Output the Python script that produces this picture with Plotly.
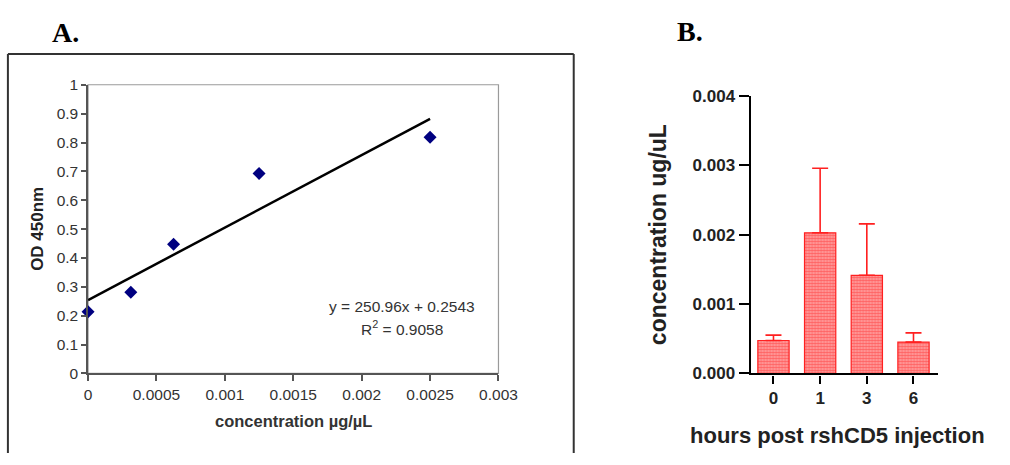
import plotly.graph_objects as go

W, H = 1010, 465

# ---- Panel A data ----
conc_a = [0.0, 0.0003125, 0.000625, 0.00125, 0.0025]
od_a = [0.214, 0.281, 0.448, 0.693, 0.818]
fit_slope = 250.96
fit_intercept = 0.2543
x_ticks_a = [0, 0.0005, 0.001, 0.0015, 0.002, 0.0025, 0.003]
x_ticklabels_a = ["0", "0.0005", "0.001", "0.0015", "0.002", "0.0025", "0.003"]
y_ticks_a = [0, 0.1, 0.2, 0.3, 0.4, 0.5, 0.6, 0.7, 0.8, 0.9, 1]
y_ticklabels_a = ["0", "0.1", "0.2", "0.3", "0.4", "0.5", "0.6", "0.7", "0.8", "0.9", "1"]

# ---- Panel B data ----
hours_b = ["0", "1", "3", "6"]
conc_b = [0.000475, 0.002028, 0.001415, 0.000452]
err_b = [0.000078, 0.000931, 0.000742, 0.000133]
y_ticks_b = [0, 0.001, 0.002, 0.003, 0.004]
y_ticklabels_b = ["0.000", "0.001", "0.002", "0.003", "0.004"]


def px(x):
    return x / W


def py(y):
    return 1 - y / H


fit_x = [conc_a[0], conc_a[-1]]
fit_y = [fit_intercept + fit_slope * v for v in fit_x]

fig = go.Figure()

fig.add_trace(go.Scatter(
    x=fit_x, y=fit_y, mode="lines",
    line=dict(color="black", width=2.5),
    xaxis="x", yaxis="y", showlegend=False, hoverinfo="skip"))
fig.add_trace(go.Scatter(
    x=conc_a, y=od_a, mode="markers",
    marker=dict(symbol="diamond", size=10, color="#000080"),
    xaxis="x", yaxis="y", showlegend=False, cliponaxis=False))

fig.add_trace(go.Bar(
    x=hours_b, y=conc_b, width=0.67,
    marker=dict(color="#ffffff", line=dict(color="#ff2020", width=1.2),
                pattern=dict(shape=".", fgcolor="#ff1a1a", bgcolor="#ffaaaa",
                             size=3, solidity=0.65)),
    error_y=dict(type="data", array=err_b, arrayminus=[0] * len(err_b),
                 symmetric=False, color="#ff2020", thickness=1.6, width=8),
    xaxis="x2", yaxis="y2", showlegend=False))

SANS = "Arial, 'Liberation Sans', sans-serif"
SERIF = "'Liberation Serif', 'Times New Roman', serif"
tick_font_a = dict(family=SANS, size=15.5, color="#333333")
tick_font_b = dict(family=SANS, size=17, color="#222222", weight="bold")

fig.update_layout(
    width=W, height=H, autosize=False,
    margin=dict(l=0, r=0, t=0, b=0, pad=0),
    paper_bgcolor="white", plot_bgcolor="white",
    xaxis=dict(domain=[px(86), px(506)], range=[0, 0.003],
               tickvals=x_ticks_a, ticktext=x_ticklabels_a,
               showgrid=False, zeroline=False,
               showline=True, linecolor="#555555", linewidth=1.5,
               ticks="outside", ticklen=6, tickcolor="#555555", tickwidth=1.5,
               tickfont=tick_font_a, anchor="y"),
    yaxis=dict(domain=[py(380), py(79)], range=[0, 1],
               tickvals=y_ticks_a, ticktext=y_ticklabels_a,
               showgrid=False, zeroline=False,
               showline=True, linecolor="#555555", linewidth=1.5,
               ticks="outside", ticklen=5, tickcolor="#555555", tickwidth=1.5,
               tickfont=tick_font_a, anchor="x"),
    xaxis2=dict(domain=[px(764), px(956)], type="category",
                range=[-0.49, 3.53],
                showgrid=False, zeroline=False,
                showline=True, linecolor="black", linewidth=2.2,
                ticks="outside", ticklen=8, tickcolor="black", tickwidth=2,
                tickfont=tick_font_b, anchor="y2"),
    yaxis2=dict(domain=[py(380), py(90.7)], range=[0, 0.004],
                tickvals=y_ticks_b, ticktext=y_ticklabels_b,
                showgrid=False, zeroline=False,
                showline=True, linecolor="black", linewidth=2.2,
                ticks="outside", ticklen=10, tickcolor="black", tickwidth=2,
                tickfont=tick_font_b, anchor="x2"),
)

# frame around panel A (left, top, right edges; kept inside the page)
frame_line = dict(color="#333333", width=2)
fig.add_shape(type="line", xref="paper", yref="paper",
              x0=px(4), x1=px(4), y0=py(463), y1=py(47), line=frame_line, layer="below")
fig.add_shape(type="line", xref="paper", yref="paper",
              x0=px(4), x1=px(583), y0=py(47), y1=py(47), line=frame_line, layer="below")
fig.add_shape(type="line", xref="paper", yref="paper",
              x0=px(583), x1=px(583), y0=py(463), y1=py(47), line=frame_line, layer="below")
# plot area border of panel A
fig.add_shape(type="rect", xref="x domain", yref="y domain",
              x0=0, x1=1, y0=0, y1=1,
              line=dict(color="#9a9a9a", width=1.2), layer="below")

ann = []
ann.append(dict(text="A.", x=px(47), y=py(25), xanchor="left", yanchor="middle",
                font=dict(family=SERIF, size=28, color="black", weight="bold")))
ann.append(dict(text="B.", x=px(687), y=py(23), xanchor="left", yanchor="middle",
                font=dict(family=SERIF, size=28, color="black", weight="bold")))
ann.append(dict(text="y = 250.96x + 0.2543", x=px(407), y=py(310),
                xanchor="center", yanchor="middle",
                font=dict(family=SANS, size=15.5, color="#333333")))
ann.append(dict(text="R<sup>2</sup> = 0.9058", x=px(407), y=py(333),
                xanchor="center", yanchor="middle",
                font=dict(family=SANS, size=15.5, color="#333333")))
ann.append(dict(text="concentration µg/µL", x=px(296), y=py(430),
                xanchor="center", yanchor="middle",
                font=dict(family=SANS, size=16.5, color="#333333", weight="bold")))
ann.append(dict(text="OD 450nm", x=px(34), y=py(229), textangle=-90,
                xanchor="center", yanchor="middle",
                font=dict(family=SANS, size=17, color="#222222", weight="bold")))
ann.append(dict(text="concentration ug/uL", x=px(670), y=py(235), textangle=-90,
                xanchor="center", yanchor="middle",
                font=dict(family=SANS, size=23, color="#222222", weight="bold")))
ann.append(dict(text="hours post rshCD5 injection", x=px(700), y=py(445),
                xanchor="left", yanchor="middle",
                font=dict(family=SANS, size=22, color="#222222", weight="bold")))
for a in ann:
    a.update(xref="paper", yref="paper", showarrow=False)
fig.update_layout(annotations=ann)

fig.write_html("out.html")
